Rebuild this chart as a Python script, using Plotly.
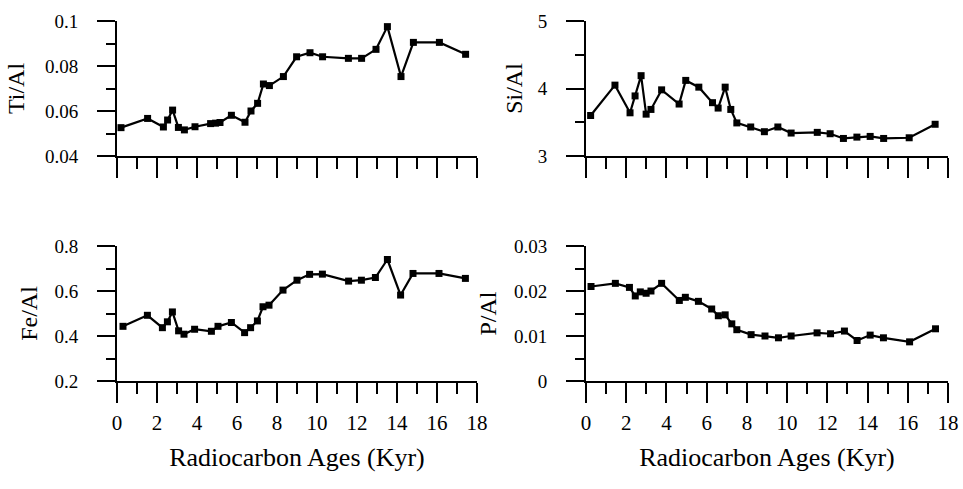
import plotly.graph_objects as go

# ---- data ----
ti_age = [0.2, 1.53, 2.32, 2.53, 2.78, 3.07, 3.37, 3.9, 4.68, 4.93, 5.15, 5.72, 6.4, 6.7, 7.03,
          7.32, 7.62, 8.32, 8.98, 9.65, 10.28, 11.57, 12.23, 12.95, 13.52, 14.2, 14.82, 16.12, 17.43]
ti_al = [0.0526, 0.0567, 0.0529, 0.056, 0.0604, 0.0527, 0.0516, 0.053, 0.0544, 0.0546, 0.0549,
         0.0581, 0.055, 0.060, 0.0634, 0.072, 0.0713, 0.0753, 0.0841, 0.0859, 0.0841, 0.0834,
         0.0834, 0.0874, 0.0975, 0.0753, 0.0905, 0.0905, 0.0852]

si_age = [0.23, 1.44, 2.19, 2.44, 2.74, 2.99, 3.23, 3.76, 4.63, 4.96, 5.61, 6.29, 6.57, 6.92,
          7.2, 7.5, 8.19, 8.87, 9.54, 10.2, 11.5, 12.14, 12.8, 13.47, 14.13, 14.8, 16.07, 17.36]
si_al = [3.60, 4.05, 3.64, 3.89, 4.19, 3.62, 3.69, 3.98, 3.77, 4.12, 4.02, 3.79, 3.71, 4.02,
         3.69, 3.49, 3.43, 3.36, 3.43, 3.34, 3.35, 3.33, 3.26, 3.28, 3.29, 3.26, 3.27, 3.47]

fe_age = [0.3, 1.52, 2.27, 2.52, 2.77, 3.08, 3.35, 3.88, 4.72, 5.05, 5.72, 6.38, 6.68, 7.02,
          7.3, 7.6, 8.3, 9.0, 9.63, 10.27, 11.58, 12.22, 12.92, 13.52, 14.18, 14.8, 16.1, 17.42]
fe_al = [0.443, 0.492, 0.437, 0.463, 0.507, 0.423, 0.408, 0.43, 0.421, 0.443, 0.46, 0.415,
         0.437, 0.467, 0.53, 0.537, 0.604, 0.648, 0.674, 0.675, 0.644, 0.648, 0.66, 0.74,
         0.582, 0.678, 0.678, 0.656]

p_age = [0.25, 1.46, 2.16, 2.45, 2.7, 2.99, 3.23, 3.76, 4.64, 4.94, 5.59, 6.25, 6.58, 6.92,
         7.25, 7.5, 8.21, 8.9, 9.57, 10.2, 11.49, 12.16, 12.85, 13.48, 14.13, 14.79, 16.09, 17.38]
p_al = [0.0210, 0.0217, 0.0208, 0.0189, 0.0198, 0.0195, 0.0200, 0.0217, 0.0179, 0.0186, 0.0177,
        0.0160, 0.0145, 0.0147, 0.0127, 0.0114, 0.0103, 0.0100, 0.0096, 0.0100, 0.0107, 0.0105,
        0.0111, 0.0090, 0.0102, 0.0096, 0.0087, 0.0116]

x_title = "Radiocarbon Ages (Kyr)"
x_ticks = [0, 2, 4, 6, 8, 10, 12, 14, 16, 18]

ti_ticks = [0.04, 0.06, 0.08, 0.1]
ti_labels = ["0.04", "0.06", "0.08", "0.1"]
si_ticks = [3, 4, 5]
si_labels = ["3", "4", "5"]
fe_ticks = [0.2, 0.4, 0.6, 0.8]
fe_labels = ["0.2", "0.4", "0.6", "0.8"]
p_ticks = [0, 0.01, 0.02, 0.03]
p_labels = ["0", "0.01", "0.02", "0.03"]

# ---- figure ----
W, H = 963, 489
FONT = "Liberation Serif"

fig = go.Figure()
panels = [
    (ti_age, ti_al, "x", "y"),
    (si_age, si_al, "x2", "y2"),
    (fe_age, fe_al, "x3", "y3"),
    (p_age, p_al, "x4", "y4"),
]
for xs, ys, xa, ya in panels:
    fig.add_trace(go.Scatter(
        x=xs, y=ys, xaxis=xa, yaxis=ya, mode="lines+markers",
        line=dict(color="black", width=2.2),
        marker=dict(symbol="square", size=7, color="black"),
        showlegend=False, cliponaxis=False,
    ))

left_dom = [117 / W, 477 / W]
right_dom = [586 / W, 948 / W]
top_dom = [1 - 156 / H, 1 - 21 / H]
bot_dom = [1 - 381 / H, 1 - 246 / H]


def xaxis(dom, anchor, labels):
    d = dict(
        domain=dom, anchor=anchor, range=[0, 18], automargin=False,
        showline=True, linecolor="black", linewidth=2,
        ticks="outside", ticklen=20, tickwidth=2, tickcolor="black",
        tickvals=x_ticks, showgrid=False, zeroline=False,
        showticklabels=labels,
        tickfont=dict(family=FONT, size=21, color="black"),
        ticklabelstandoff=2,
        minor=dict(dtick=1, tick0=0, ticks="outside", ticklen=11, tickwidth=2,
                   tickcolor="black", showgrid=False),
    )
    if labels:
        d["title"] = dict(text=x_title, font=dict(family=FONT, size=26, color="black"),
                          standoff=14)
    return d


def yaxis(dom, anchor, rng, tv, tt, minor_dtick, title, standoff):
    return dict(
        domain=dom, anchor=anchor, range=rng, automargin=False,
        showline=True, linecolor="black", linewidth=2,
        ticks="outside", ticklen=18, tickwidth=2, tickcolor="black",
        tickvals=tv, ticktext=tt, showgrid=False, zeroline=False,
        tickfont=dict(family=FONT, size=19, color="black"),
        ticklabelstandoff=15,
        minor=dict(dtick=minor_dtick, tick0=rng[0], ticks="outside", ticklen=9,
                   tickwidth=2, tickcolor="black", showgrid=False),
        title=dict(text=title, font=dict(family=FONT, size=24, color="black"),
                   standoff=standoff),
    )


fig.update_layout(
    width=W, height=H,
    margin=dict(l=0, r=0, t=0, b=0, autoexpand=False),
    paper_bgcolor="white", plot_bgcolor="white",
    font=dict(family=FONT, color="black"),
    xaxis=xaxis(left_dom, "y", False),
    xaxis2=xaxis(right_dom, "y2", False),
    xaxis3=xaxis(left_dom, "y3", True),
    xaxis4=xaxis(right_dom, "y4", True),
    yaxis=yaxis(top_dom, "x", [0.04, 0.1], ti_ticks, ti_labels, 0.01, "Ti/Al", 14),
    yaxis2=yaxis(top_dom, "x2", [3, 5], si_ticks, si_labels, 0.5, "Si/Al", 8),
    yaxis3=yaxis(bot_dom, "x3", [0.2, 0.8], fe_ticks, fe_labels, 0.1, "Fe/Al", 10),
    yaxis4=yaxis(bot_dom, "x4", [0, 0.03], p_ticks, p_labels, 0.005, "P/Al", 11),
)

fig.write_html("out.html", config={"displayModeBar": False},
               post_script="document.body.style.margin='0';")
